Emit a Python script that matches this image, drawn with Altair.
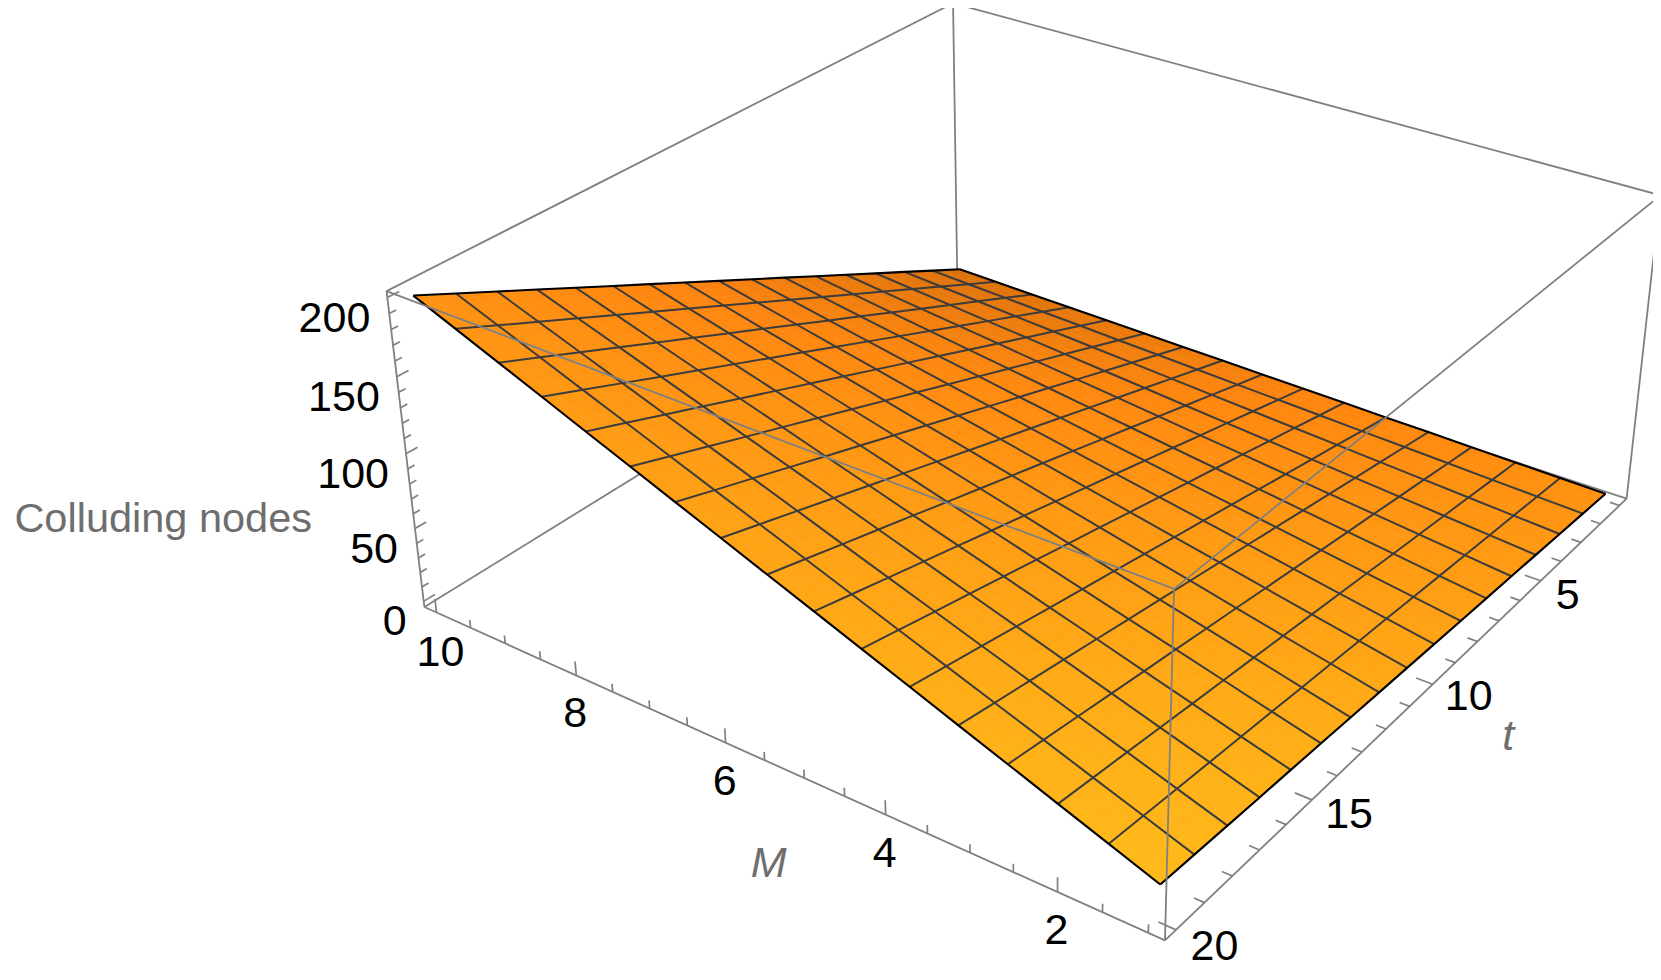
import numpy as np
import pandas as pd
import altair as alt

# Camera of the 3D view (M, t, z) -> page pixels
CAMERA = np.array([[-57.4212957, -35.306382, -0.2751112, 1706.3740335],
                   [-19.4965058, 13.0148728, -1.5209407, 504.1634291],
                   [0.0152653, -0.0101072, -0.0002642, 1.0]])

M_GRID = [1, 1.5625, 2.125, 2.6875, 3.25, 3.8125, 4.375, 4.9375, 5.5, 6.0625, 6.625, 7.1875, 7.75, 8.3125, 8.875, 9.4375, 10]
T_GRID = [1, 2.1875, 3.375, 4.5625, 5.75, 6.9375, 8.125, 9.3125, 10.5, 11.6875, 12.875, 14.0625, 15.25, 16.4375, 17.625, 18.8125, 20]
NODES = [
 [1,2.2,3.4,4.6,5.8,6.9,8.1,9.3,10.5,11.7,12.9,14.1,15.3,16.4,17.6,18.8,20],
 [1.6,3.4,5.3,7.1,9.0,10.8,12.7,14.6,16.4,18.3,20.1,22.0,23.8,25.7,27.5,29.4,31.3],
 [2.1,4.6,7.2,9.7,12.2,14.7,17.3,19.8,22.3,24.8,27.4,29.9,32.4,34.9,37.5,40.0,42.5],
 [2.7,5.9,9.1,12.3,15.5,18.6,21.8,25.0,28.2,31.4,34.6,37.8,41.0,44.2,47.4,50.6,53.8],
 [3.3,7.1,11.0,14.8,18.7,22.5,26.4,30.3,34.1,38.0,41.8,45.7,49.6,53.4,57.3,61.1,65],
 [3.8,8.3,12.9,17.4,21.9,26.4,31.0,35.5,40.0,44.6,49.1,53.6,58.1,62.7,67.2,71.7,76.3],
 [4.4,9.6,14.8,20.0,25.2,30.4,35.5,40.7,45.9,51.1,56.3,61.5,66.7,71.9,77.1,82.3,87.5],
 [4.9,10.8,16.7,22.5,28.4,34.3,40.1,46.0,51.8,57.7,63.6,69.4,75.3,81.2,87.0,92.9,98.8],
 [5.5,12.0,18.6,25.1,31.6,38.2,44.7,51.2,57.8,64.3,70.8,77.3,83.9,90.4,96.9,103.5,110],
 [6.1,13.3,20.5,27.7,34.9,42.1,49.3,56.5,63.7,70.9,78.1,85.3,92.5,99.7,106.9,114.1,121.3],
 [6.6,14.5,22.4,30.2,38.1,46.0,53.8,61.7,69.6,77.4,85.3,93.2,101.0,108.9,116.8,124.6,132.5],
 [7.2,15.7,24.3,32.8,41.3,49.9,58.4,66.9,75.5,84.0,92.5,101.1,109.6,118.1,126.7,135.2,143.8],
 [7.8,17.0,26.2,35.4,44.6,53.8,63.0,72.2,81.4,90.6,99.8,109.0,118.2,127.4,136.6,145.8,155],
 [8.3,18.2,28.1,37.9,47.8,57.7,67.5,77.4,87.3,97.2,107.0,116.9,126.8,136.6,146.5,156.4,166.3],
 [8.9,19.4,30.0,40.5,51.0,61.6,72.1,82.6,93.2,103.7,114.3,124.8,135.3,145.9,156.4,167.0,177.5],
 [9.4,20.6,31.9,43.1,54.3,65.5,76.7,87.9,99.1,110.3,121.5,132.7,143.9,155.1,166.3,177.5,188.8],
 [10,21.9,33.8,45.6,57.5,69.4,81.3,93.1,105,116.9,128.8,140.6,152.5,164.4,176.3,188.1,200],
]
M_MINOR = [1, 1.5, 2, 2.5, 3, 3.5, 4, 4.5, 5, 5.5, 6, 6.5, 7, 7.5, 8, 8.5, 9, 9.5, 10]
M_LABELS = [2, 4, 6, 8]
M_LABELS_WIDE = [10]
T_MINOR = list(range(1, 21))
T_LABELS = [10, 15, 20]
T_LABELS_NARROW = [5]
Z_MINOR = list(range(0, 201, 10))
Z_LABELS = [0, 50, 100, 150, 200]
M_BOX = (0.82, 10.18)
T_BOX = (0.62, 20.38)
Z_BOX = (-3.98, 203.98)
# surface colours at the corners (M, t); red saturates except near the back
C_M1T1 = (280, 146, 16)
C_M1T20 = (290, 186, 26)
C_M10T1 = (216, 112, 10)
C_M10T20 = (280, 146, 18)
GREY = "#808080"
FONT = "Liberation Sans"


def proj(M, t, z):
    h = CAMERA @ np.array([M, t, z, 1.0])
    return float(h[0] / h[2]), float(h[1] / h[2])


def shade(u, v):
    c = [(1 - u) * (1 - v) * a + (1 - u) * v * b + u * (1 - v) * d + u * v * e
         for a, b, d, e in zip(C_M1T1, C_M1T20, C_M10T1, C_M10T20)]
    return "#%02x%02x%02x" % tuple(int(min(255, round(x))) for x in c)


# surface patches, each mesh cell split for a smooth shading
SUB = 3
features = []
Z = np.array(NODES, float)
for i in range(16):
    for j in range(16):
        for a in range(SUB):
            for b in range(SUB):
                def pt(fa, fb):
                    m = M_GRID[i] + (M_GRID[i + 1] - M_GRID[i]) * fa
                    t = T_GRID[j] + (T_GRID[j + 1] - T_GRID[j]) * fb
                    z = (Z[i, j] * (1 - fa) * (1 - fb) + Z[i + 1, j] * fa * (1 - fb)
                         + Z[i, j + 1] * (1 - fa) * fb + Z[i + 1, j + 1] * fa * fb)
                    x, y = proj(m, t, z)
                    return [round(x, 2), round(y, 2)]
                fa0, fa1, fb0, fb1 = a / SUB, (a + 1) / SUB, b / SUB, (b + 1) / SUB
                ring = [pt(fa0, fb0), pt(fa1, fb0), pt(fa1, fb1), pt(fa0, fb1), pt(fa0, fb0)]
                u = (M_GRID[i] + (M_GRID[i + 1] - M_GRID[i]) * (fa0 + fa1) / 2 - 1) / 9
                v = (T_GRID[j] + (T_GRID[j + 1] - T_GRID[j]) * (fb0 + fb1) / 2 - 1) / 19
                features.append({"type": "Feature", "geometry": {"type": "Polygon", "coordinates": [ring]},
                                 "properties": {"c": shade(u, v)}})


def segs(lines):
    rows = []
    for g, pts in enumerate(lines):
        for k, p in enumerate(pts):
            x, y = proj(*p)
            rows.append({"g": g, "k": k, "lon": x, "lat": y})
    return pd.DataFrame(rows)


def line_layer(lines, color, width):
    return alt.Chart(segs(lines)).mark_line(color=color, strokeWidth=width, strokeJoin="round", clip=False).encode(
        longitude="lon:Q", latitude="lat:Q", detail="g:N", order="k:Q")


m0, m1 = M_BOX
t0, t1 = T_BOX
z0, z1 = Z_BOX
back = [
    [(m1, t1, z0), (m1, t0, z0)], [(m0, t0, z0), (m1, t0, z0)], [(m1, t0, z0), (m1, t0, z1)],
    [(m0, t0, z0), (m0, t0, z1)], [(m1, t1, z0), (m1, t1, z1)], [(m1, t1, z1), (m1, t0, z1)],
    [(m1, t0, z1), (m0, t0, z1)], [(m1, t1, z0), (m0, t1, z0)], [(m0, t1, z0), (m0, t0, z0)],
]
front = [[(m1, t1, z1), (m0, t1, z1)], [(m0, t0, z1), (m0, t1, z1)], [(m0, t1, z1), (m0, t1, z0)]]
M_MAJOR = M_LABELS + M_LABELS_WIDE
T_MAJOR = T_LABELS + T_LABELS_NARROW
ticks = []
for v in M_MINOR:
    ticks.append([(v, t1, z0), (v, t1, z0 + (9.5 if v in M_MAJOR else 5.5))])
for v in T_MINOR:
    ticks.append([(m0, v, z0), (m0 + (0.19 if v in T_MAJOR else 0.115), v, z0)])
for v in Z_MINOR:
    ticks.append([(m1, t1, v), (m1, t1 - (0.34 if v in Z_LABELS else 0.2), v)])

mesh = [[(M_GRID[i], T_GRID[j], Z[i, j]) for j in range(17)] for i in range(1, 16)]
mesh += [[(M_GRID[i], T_GRID[j], Z[i, j]) for i in range(17)] for j in range(1, 16)]
edge = [[(M_GRID[0], T_GRID[j], Z[0, j]) for j in range(17)], [(M_GRID[16], T_GRID[j], Z[16, j]) for j in range(17)],
        [(M_GRID[i], T_GRID[0], Z[i, 0]) for i in range(17)], [(M_GRID[i], T_GRID[16], Z[i, 16]) for i in range(17)]]


def text_layer(items, dx, dy, color="black", size=43, align="center", style="normal"):
    rows = []
    for (p, s) in items:
        x, y = proj(*p)
        rows.append({"lon": x, "lat": y, "s": s})
    return alt.Chart(pd.DataFrame(rows)).mark_text(
        font=FONT, fontSize=size, color=color, align=align, baseline="middle", dx=dx, dy=dy, fontStyle=style
    ).encode(longitude="lon:Q", latitude="lat:Q", text="s:N")


surface = alt.Chart(alt.InlineData(values={"type": "FeatureCollection", "features": features},
                                   format=alt.DataFormat(property="features", type="json"))).mark_geoshape(
    strokeWidth=0.6).encode(fill=alt.Fill("properties.c:N", scale=None), stroke=alt.Stroke("properties.c:N", scale=None))

chart = alt.layer(
    line_layer(back, GREY, 1.8),
    line_layer(ticks, GREY, 1.7),
    surface,
    line_layer(mesh, "#3c3c3c", 2.0),
    line_layer(edge, "#000000", 2.1),
    line_layer(front, GREY, 1.8),
    text_layer([((v, t1, z0), str(v)) for v in M_LABELS], -1, 39),
    text_layer([((v, t1, z0), str(v)) for v in M_LABELS_WIDE], 4, 40),
    text_layer([((m0 - 0.4, v, z0), str(v)) for v in T_LABELS], 1, 0),
    text_layer([((m0 - 0.4, v, z0), str(v)) for v in T_LABELS_NARROW], -7, 3),
    text_layer([((m1, t1, v), str(v)) for v in Z_LABELS], -17, 21, align="right"),
    text_layer([((m1, t1, 100), "Colluding nodes")], -94, 66, color="#6e6e6e", size=41.5, align="right"),
    text_layer([((5.5, t1, z0), "M")], 4, 104, color="#6e6e6e", style="italic"),
    text_layer([((m0, 10.5, z0), "t")], 87, 42, color="#6e6e6e", style="italic"),
).project(type="identity", scale=1, translate=[-8, -8]).properties(
    width=1645, height=964, padding=0, autosize=alt.AutoSizeParams(type="none")
).configure_view(stroke=None)

chart.save("out.html", embed_options={"renderer": "svg", "actions": False})
